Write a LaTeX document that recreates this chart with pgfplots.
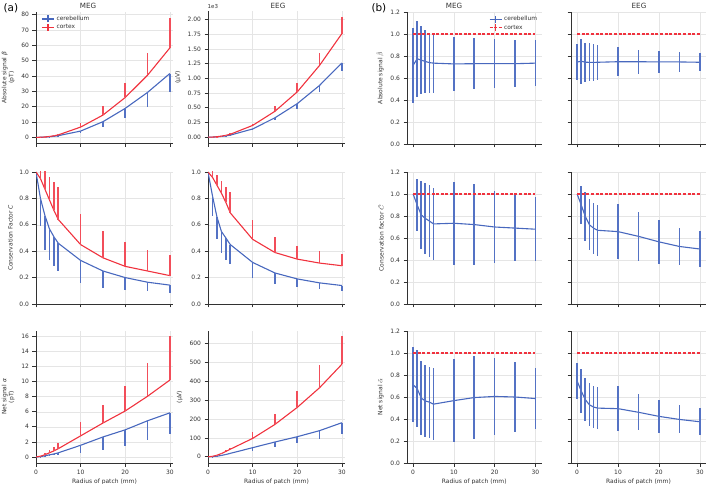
\documentclass[border=0pt]{standalone}
\usepackage{fontspec}
\setmainfont{DejaVu Sans}
\usepackage{pgfplots}
\pgfplotsset{compat=1.18}
\definecolor{myblue}{RGB}{72,104,190}
\definecolor{myred}{RGB}{240,50,62}
\definecolor{mybluel}{RGB}{84,114,196}
\definecolor{myredl}{RGB}{242,78,90}
\definecolor{txt}{RGB}{50,50,50}
\pgfplotsset{
 base/.style={
  scale only axis, height=132bp, anchor=south west,
  axis x line*=bottom, axis y line*=left,
  axis line style={draw=txt, line width=0.6bp},
  every tick/.style={draw=txt, line width=0.6bp},
  major tick length=3.5bp, tick align=outside,
  xmajorgrids, ymajorgrids, major grid style={draw=black!10, line width=0.4bp},
  tick label style={font=\fontsize{6}{7}\selectfont, text=txt},
  label style={font=\fontsize{6}{7}\selectfont, text=txt},
  ylabel style={align=center},
  xlabel style={yshift=2.5bp},
  /pgf/number format/assume math mode=true,
  clip mode=individual,
  xtick={0,10,20,30},
  scaled y ticks=false,
  legend style={draw=none, fill=none, font=\fontsize{5.9}{7}\selectfont, text=txt, row sep=-1.5bp, inner sep=1bp},
  legend cell align=left,
 },
 colA/.style={base, width=137bp, xmin=0, xmax=30.7},
 colB/.style={base, width=134.5bp, xmin=-1.5, xmax=31.5, ymin=0, ymax=1.2, ytick={0,0.2,0.4,0.6,0.8,1.0,1.2},
   yticklabel style={/pgf/number format/.cd, fixed, fixed zerofill, precision=1}},
 bl/.style={color=myblue, draw=myblue, line width=1.1bp, mark=none,
   legend image code/.code={\draw[draw=myblue, line width=1.3bp] (0bp,0bp) -- (12bp,0bp); \draw[draw=myblue, line width=1.6bp] (6bp,-3.5bp) -- (6bp,3.5bp);}},
 rd/.style={color=myred, draw=myred, line width=1.1bp, mark=none,
   legend image code/.code={\draw[draw=myred, line width=1.3bp] (0bp,0bp) -- (12bp,0bp); \draw[draw=myred, line width=1.6bp] (6bp,-3.5bp) -- (6bp,3.5bp);}},
 rdd/.style={color=myred, draw=myred, line width=1.2bp, mark=none, dash pattern=on 3bp off 1.6bp,
   legend image code/.code={\draw[draw=myred, line width=1.3bp, dash pattern=on 3bp off 1.6bp] (0bp,0bp) -- (12bp,0bp); \draw[draw=myred, line width=1.6bp] (6bp,-3.5bp) -- (6bp,3.5bp);}},
 edn/.style={error bars/y dir=minus, error bars/y explicit, error bars/error mark=none, error bars/error bar style={draw=mybluel, line width=1.7bp, solid}},
 eup/.style={error bars/y dir=plus, error bars/y explicit, error bars/error mark=none, error bars/error bar style={draw=myredl, line width=1.7bp, solid}},
 ebo/.style={error bars/y dir=both, error bars/y explicit, error bars/error mark=none, error bars/error bar style={draw=mybluel, line width=1.7bp, solid}},
}
\begin{document}
\begin{tikzpicture}
\path[use as bounding box] (0bp,0bp) rectangle (709bp,484bp);
\node[font=\fontsize{10.5}{12}\selectfont, text=black, anchor=west] at (0bp,476bp) {(a)};
\node[font=\fontsize{10.5}{12}\selectfont, text=black, anchor=west] at (368bp,476bp) {(b)};
\node[font=\fontsize{7.2}{8}\selectfont, text=txt] at (88bp,478.5bp) {MEG};
\node[font=\fontsize{7.2}{8}\selectfont, text=txt] at (278bp,478.5bp) {EEG};
\node[font=\fontsize{7.2}{8}\selectfont, text=txt] at (454bp,478.5bp) {MEG};
\node[font=\fontsize{7.2}{8}\selectfont, text=txt] at (639bp,478.5bp) {EEG};
\node[font=\fontsize{5.5}{6}\selectfont, text=txt, anchor=west, inner sep=0] at (207.5bp,477.5bp) {1e3};

% ---------------- (a) row 1 ----------------
\begin{axis}[colA, at={(36bp,340.5bp)}, ymin=-4, ymax=82, ytick={0,10,20,30,40,50,60,70,80}, xticklabels={},
  ylabel={Absolute signal {\itshape β}\\(pT)},
  legend style={at={(0.03,0.99)}, anchor=north west}]
\addplot[bl,edn] table[x=x,y=y,y error=e,row sep=\\] {x y e\\ 0 0 0\\ 1 0.04 0.01\\ 2 0.17 0.05\\ 3 0.4 0.12\\ 4 0.7 0.2\\ 5 1.1 0.35\\ 10 4.1 1.5\\ 15 10.2 3.7\\ 20 18.9 6.5\\ 25 29.3 9.4\\ 30 41.6 11.9\\};
\addlegendentry{cerebellum}
\addplot[rd,eup] table[x=x,y=y,y error=e,row sep=\\] {x y e\\ 0 0 0\\ 1 0.065 0.03\\ 2 0.26 0.12\\ 3 0.58 0.25\\ 4 1.0 0.45\\ 5 1.6 0.75\\ 10 6.7 2.5\\ 15 14.5 5.9\\ 20 26 9.6\\ 25 40.5 14.5\\ 30 58.3 19.7\\};
\addlegendentry{cortex}
\end{axis}
\begin{axis}[colA, at={(208bp,340.5bp)}, ymin=-0.107, ymax=2.136, ytick={0,0.25,0.5,0.75,1,1.25,1.5,1.75,2}, xticklabels={},
  yticklabel style={/pgf/number format/.cd, fixed, fixed zerofill, precision=2},
  ylabel={(\textmu V)}]
\addplot[bl,edn] table[x=x,y=y,y error=e,row sep=\\] {x y e\\ 0 0 0\\ 1 0.0015 0.0005\\ 2 0.006 0.002\\ 3 0.013 0.004\\ 4 0.023 0.007\\ 5 0.035 0.01\\ 10 0.14 0.025\\ 15 0.33 0.04\\ 20 0.57 0.09\\ 25 0.88 0.12\\ 30 1.26 0.14\\};
\addplot[rd,eup] table[x=x,y=y,y error=e,row sep=\\] {x y e\\ 0 0 0\\ 1 0.002 0.001\\ 2 0.008 0.003\\ 3 0.018 0.006\\ 4 0.032 0.01\\ 5 0.05 0.015\\ 10 0.2 0.03\\ 15 0.44 0.09\\ 20 0.77 0.15\\ 25 1.22 0.21\\ 30 1.76 0.28\\};
\end{axis}

% ---------------- (a) row 2 ----------------
\begin{axis}[colA, at={(36bp,180bp)}, ymin=0, ymax=1, ytick={0,0.2,0.4,0.6,0.8,1.0}, xticklabels={},
  yticklabel style={/pgf/number format/.cd, fixed, fixed zerofill, precision=1},
  ylabel={Conservation Factor {\itshape C}}]
\addplot[bl,edn] table[x=x,y=y,y error=e,row sep=\\] {x y e\\ 0 1 0\\ 1 0.8 0.21\\ 2 0.67 0.26\\ 3 0.57 0.235\\ 4 0.51 0.22\\ 5 0.46 0.21\\ 10 0.33 0.17\\ 15 0.25 0.13\\ 20 0.2 0.093\\ 25 0.165 0.07\\ 30 0.143 0.058\\};
\addplot[rd,eup] table[x=x,y=y,y error=e,row sep=\\] {x y e\\ 0 1 0\\ 1 0.95 0.1\\ 2 0.87 0.14\\ 3 0.79 0.17\\ 4 0.71 0.215\\ 5 0.64 0.245\\ 10 0.45 0.23\\ 15 0.35 0.2\\ 20 0.285 0.185\\ 25 0.25 0.16\\ 30 0.215 0.155\\};
\end{axis}
\begin{axis}[colA, at={(208bp,180bp)}, ymin=0, ymax=1, ytick={0,0.2,0.4,0.6,0.8,1.0}, xticklabels={},
  yticklabel style={/pgf/number format/.cd, fixed, fixed zerofill, precision=1}]
\addplot[bl,edn] table[x=x,y=y,y error=e,row sep=\\] {x y e\\ 0 1 0\\ 1 0.82 0.155\\ 2 0.66 0.17\\ 3 0.55 0.16\\ 4 0.5 0.165\\ 5 0.45 0.15\\ 10 0.315 0.115\\ 15 0.235 0.08\\ 20 0.19 0.065\\ 25 0.16 0.05\\ 30 0.14 0.04\\};
\addplot[rd,eup] table[x=x,y=y,y error=e,row sep=\\] {x y e\\ 0 1 0\\ 1 0.96 0.06\\ 2 0.9 0.075\\ 3 0.84 0.095\\ 4 0.77 0.12\\ 5 0.69 0.16\\ 10 0.49 0.145\\ 15 0.39 0.12\\ 20 0.34 0.1\\ 25 0.31 0.095\\ 30 0.29 0.085\\};
\end{axis}

% ---------------- (a) row 3 ----------------
\begin{axis}[colA, at={(36bp,21bp)}, ymin=-0.8, ymax=16.7, ytick={0,2,4,6,8,10,12,14,16},
  ylabel={Net signal {\itshape α}\\(pT)}, xlabel={Radius of patch (mm)}]
\addplot[bl,edn] table[x=x,y=y,y error=e,row sep=\\] {x y e\\ 0 0 0\\ 1 0.05 0.02\\ 2 0.15 0.06\\ 3 0.28 0.1\\ 4 0.4 0.15\\ 5 0.55 0.25\\ 10 1.55 1.0\\ 15 2.65 1.7\\ 20 3.6 2.15\\ 25 4.8 2.5\\ 30 5.85 2.75\\};
\addplot[rd,eup] table[x=x,y=y,y error=e,row sep=\\] {x y e\\ 0 0 0\\ 1 0.1 0.05\\ 2 0.3 0.2\\ 3 0.55 0.35\\ 4 0.8 0.5\\ 5 1.1 0.7\\ 10 2.8 1.85\\ 15 4.5 2.35\\ 20 6.1 3.3\\ 25 8.05 4.45\\ 30 10.2 5.8\\};
\end{axis}
\begin{axis}[colA, at={(208bp,21bp)}, ymin=-33, ymax=665, ytick={0,100,200,300,400,500,600},
  ylabel={(\textmu V)}, xlabel={Radius of patch (mm)}]
\addplot[bl,edn] table[x=x,y=y,y error=e,row sep=\\] {x y e\\ 0 0 0\\ 1 1 0.3\\ 2 3 1\\ 3 7 2\\ 4 12 3\\ 5 18 4\\ 10 48 18\\ 15 78 29\\ 20 106 35\\ 25 138 44\\ 30 180 60\\};
\addplot[rd,eup] table[x=x,y=y,y error=e,row sep=\\] {x y e\\ 0 0 0\\ 1 2 0.5\\ 2 8 2\\ 3 17 4\\ 4 28 6\\ 5 40 8\\ 10 97 34\\ 15 171 55\\ 20 261 87\\ 25 365 120\\ 30 489 150\\};
\end{axis}

% ---------------- (b) row 1 ----------------
\begin{axis}[colB, at={(407bp,340bp)}, xticklabels={},
  ylabel={Absolute signal $\tilde{\beta}$},
  legend style={at={(0.99,0.99)}, anchor=north east}]
\addplot[bl,ebo] table[x=x,y=y,y error=e,row sep=\\] {x y e\\ 0 0.715 0.34\\ 1 0.775 0.347\\ 2 0.762 0.31\\ 3 0.75 0.283\\ 4 0.74 0.273\\ 5 0.735 0.27\\ 10 0.728 0.245\\ 15 0.73 0.23\\ 20 0.73 0.22\\ 25 0.73 0.213\\ 30 0.735 0.208\\};
\addlegendentry{cerebellum}
\addplot[rdd] table[row sep=\\] {x y\\ 0 1\\ 30 1\\};
\addlegendentry{cortex}
\end{axis}
\begin{axis}[colB, at={(571bp,340bp)}, width=135bp, xticklabels={}, yticklabels={}]
\addplot[bl,ebo] table[x=x,y=y,y error=e,row sep=\\] {x y e\\ 0 0.745 0.163\\ 1 0.752 0.205\\ 2 0.744 0.177\\ 3 0.742 0.172\\ 4 0.742 0.166\\ 5 0.743 0.16\\ 10 0.748 0.13\\ 15 0.748 0.11\\ 20 0.746 0.098\\ 25 0.746 0.09\\ 30 0.743 0.08\\};
\addplot[rdd] table[row sep=\\] {x y\\ 0 1\\ 30 1\\};
\end{axis}

% ---------------- (b) row 2 ----------------
\begin{axis}[colB, at={(407bp,180bp)}, xticklabels={},
  ylabel={Conservation factor $\tilde{C}$}]
\addplot[bl,ebo] table[x=x,y=y,y error=e,row sep=\\] {x y e\\ 0 1.0 0\\ 1 0.90 0.24\\ 2 0.81 0.31\\ 3 0.778 0.325\\ 4 0.754 0.326\\ 5 0.728 0.324\\ 10 0.734 0.375\\ 15 0.722 0.369\\ 20 0.70 0.33\\ 25 0.69 0.30\\ 30 0.68 0.29\\};
\addplot[rdd] table[row sep=\\] {x y\\ 0 1\\ 30 1\\};
\end{axis}
\begin{axis}[colB, at={(571bp,180bp)}, width=135bp, xticklabels={}, yticklabels={}]
\addplot[bl,ebo] table[x=x,y=y,y error=e,row sep=\\] {x y e\\ 0 1.0 0\\ 1 0.90 0.174\\ 2 0.795 0.224\\ 3 0.72 0.231\\ 4 0.69 0.231\\ 5 0.67 0.23\\ 10 0.658 0.248\\ 15 0.615 0.22\\ 20 0.565 0.198\\ 25 0.523 0.17\\ 30 0.5 0.165\\};
\addplot[rdd] table[row sep=\\] {x y\\ 0 1\\ 30 1\\};
\end{axis}

% ---------------- (b) row 3 ----------------
\begin{axis}[colB, at={(407bp,21bp)},
  ylabel={Net signal $\tilde{\alpha}$}, xlabel={Radius of patch (mm)}]
\addplot[bl,ebo] table[x=x,y=y,y error=e,row sep=\\] {x y e\\ 0 0.712 0.34\\ 1 0.676 0.35\\ 2 0.59 0.335\\ 3 0.564 0.325\\ 4 0.553 0.323\\ 5 0.535 0.326\\ 10 0.567 0.377\\ 15 0.595 0.378\\ 20 0.605 0.35\\ 25 0.60 0.315\\ 30 0.586 0.275\\};
\addplot[rdd] table[row sep=\\] {x y\\ 0 1\\ 30 1\\};
\end{axis}
\begin{axis}[colB, at={(571bp,21bp)}, width=135bp, yticklabels={}, xlabel={Radius of patch (mm)}]
\addplot[bl,ebo] table[x=x,y=y,y error=e,row sep=\\] {x y e\\ 0 0.745 0.162\\ 1 0.654 0.2\\ 2 0.576 0.195\\ 3 0.529 0.196\\ 4 0.509 0.192\\ 5 0.499 0.19\\ 10 0.494 0.207\\ 15 0.461 0.165\\ 20 0.424 0.148\\ 25 0.396 0.127\\ 30 0.375 0.124\\};
\addplot[rdd] table[row sep=\\] {x y\\ 0 1\\ 30 1\\};
\end{axis}
\end{tikzpicture}
\end{document}
